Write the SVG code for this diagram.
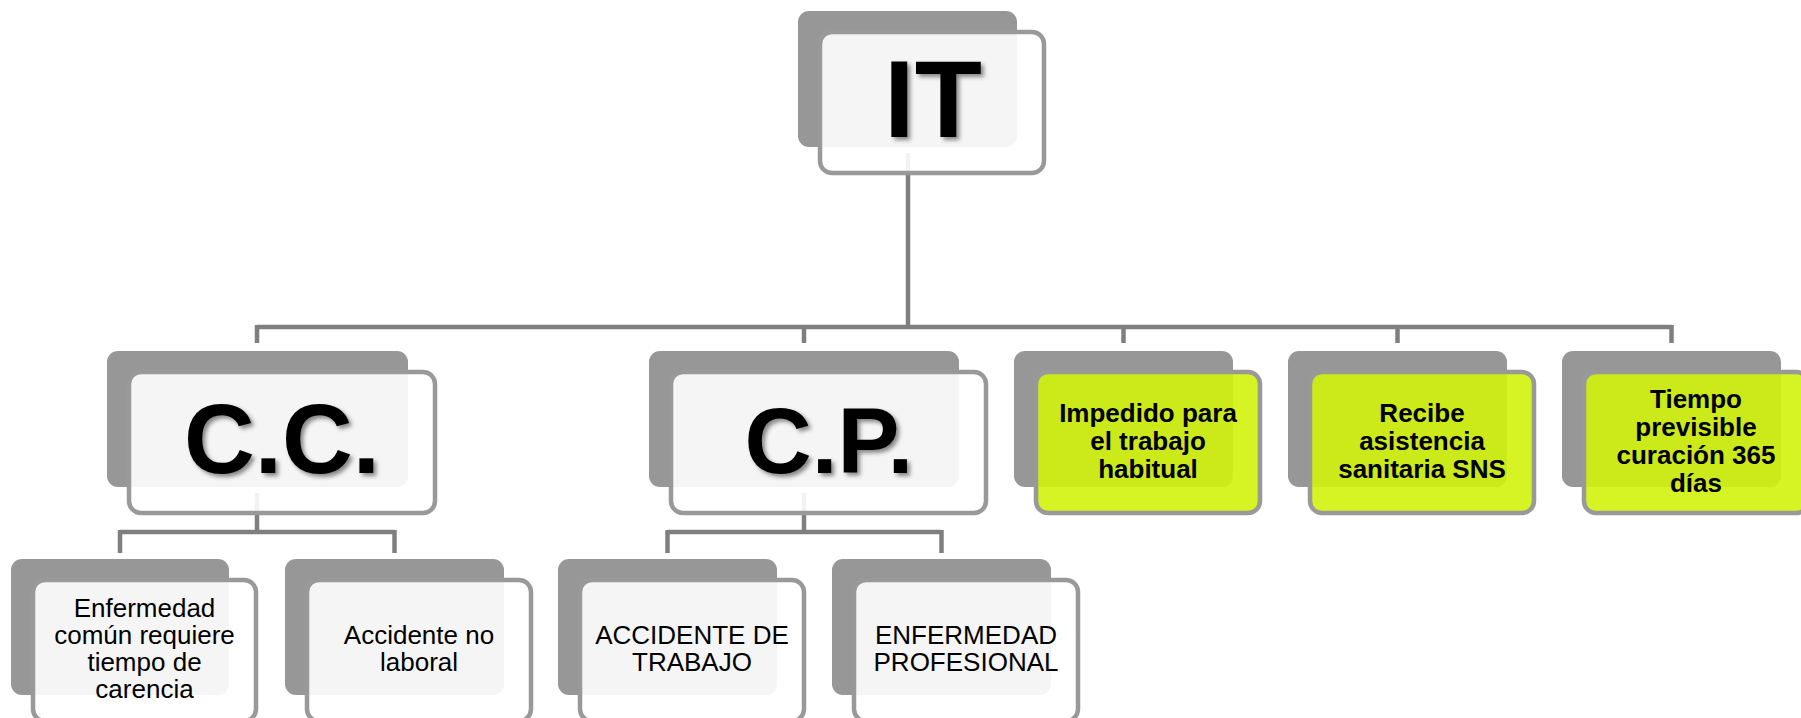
<svg xmlns="http://www.w3.org/2000/svg" width="1801" height="718" viewBox="0 0 1801 718">
<defs>
<style>
.back{fill:#979797}
.front{fill:#ffffff;fill-opacity:0.9;stroke:#999999;stroke-width:4.5}
.green{fill:#d2f20c;fill-opacity:0.9;stroke:#999999;stroke-width:4.5}
.conn{fill:none;stroke:#7f7f7f;stroke-width:4.5}
.big{font-family:"Liberation Sans",Arial,sans-serif;font-weight:bold;fill:#000;text-anchor:middle;filter:url(#sh)}
.reg{font-family:"Liberation Sans",Arial,sans-serif;font-size:26px;fill:#000;text-anchor:middle}
.bld{font-family:"Liberation Sans",Arial,sans-serif;font-size:26px;font-weight:bold;fill:#000;text-anchor:middle}
</style>
<filter id="sh" x="-10%" y="-10%" width="130%" height="130%">
<feDropShadow dx="3" dy="3" stdDeviation="2" flood-color="#000" flood-opacity="0.45"/>
</filter>
</defs>
<rect width="1801" height="718" fill="#ffffff"/>
<g id="connectors">
<path class="conn" d="M908,153 V327"/>
<path class="conn" d="M257,327 H1671.5"/>
<path class="conn" d="M257,325 V343 M804,327 V343 M1123.5,327 V343 M1397.5,327 V343 M1671.5,325 V343"/>
<path class="conn" d="M257,493 V532 M120,532 H394.5 M120,530 V553 M394.5,530 V553"/>
<path class="conn" d="M804,493 V532 M667.5,532 H941.5 M667.5,530 V553 M941.5,530 V553"/>
</g>
<g id="node-it">
<rect class="back" x="798" y="11" width="219" height="136" rx="11"/>
<rect class="front" x="820" y="32" width="224" height="141" rx="12"/>
<text class="big" x="933" y="137" font-size="110">IT</text>
</g>
<g id="node-cc">
<rect class="back" x="107" y="351" width="301" height="136" rx="11"/>
<rect class="front" x="129" y="372" width="306" height="141" rx="12"/>
<text class="big" x="282" y="473" font-size="98">C.C.</text>
</g>
<g id="node-cp">
<rect class="back" x="649" y="351" width="310" height="136" rx="11"/>
<rect class="front" x="671" y="372" width="315" height="141" rx="12"/>
<text class="big" x="829" y="473" font-size="93">C.P.</text>
</g>
<g id="node-impedido">
<rect class="back" x="1014" y="351" width="219" height="136" rx="11"/>
<rect class="green" x="1036" y="372" width="224" height="141" rx="12"/>
<text class="bld" x="1148" y="422.3">Impedido para<tspan x="1148" dy="28">el trabajo</tspan><tspan x="1148" dy="28">habitual</tspan></text>
</g>
<g id="node-recibe">
<rect class="back" x="1288" y="351" width="219" height="136" rx="11"/>
<rect class="green" x="1310" y="372" width="224" height="141" rx="12"/>
<text class="bld" x="1422" y="422.3">Recibe<tspan x="1422" dy="28">asistencia</tspan><tspan x="1422" dy="28">sanitaria SNS</tspan></text>
</g>
<g id="node-tiempo">
<rect class="back" x="1562" y="351" width="219" height="136" rx="11"/>
<rect class="green" x="1584" y="372" width="224" height="141" rx="12"/>
<text class="bld" x="1696" y="408.3">Tiempo<tspan x="1696" dy="28">previsible</tspan><tspan x="1696" dy="28">curación 365</tspan><tspan x="1696" dy="28">días</tspan></text>
</g>
<g id="node-enfermedad-comun">
<rect class="back" x="11" y="559" width="218" height="136" rx="11"/>
<rect class="front" x="33" y="580" width="223" height="141" rx="12"/>
<text class="reg" x="144.5" y="616.8">Enfermedad<tspan x="144.5" dy="27">común requiere</tspan><tspan x="144.5" dy="27">tiempo de</tspan><tspan x="144.5" dy="27">carencia</tspan></text>
</g>
<g id="node-accidente-no-laboral">
<rect class="back" x="285" y="559" width="219" height="136" rx="11"/>
<rect class="front" x="307" y="580" width="224" height="141" rx="12"/>
<text class="reg" x="419" y="643.8">Accidente no<tspan x="419" dy="27">laboral</tspan></text>
</g>
<g id="node-accidente-trabajo">
<rect class="back" x="558" y="559" width="219" height="136" rx="11"/>
<rect class="front" x="580" y="580" width="224" height="141" rx="12"/>
<text class="reg" x="692" y="643.8">ACCIDENTE DE<tspan x="692" dy="27">TRABAJO</tspan></text>
</g>
<g id="node-enfermedad-profesional">
<rect class="back" x="832" y="559" width="219" height="136" rx="11"/>
<rect class="front" x="854" y="580" width="224" height="141" rx="12"/>
<text class="reg" x="966" y="643.8">ENFERMEDAD<tspan x="966" dy="27">PROFESIONAL</tspan></text>
</g>
</svg>
